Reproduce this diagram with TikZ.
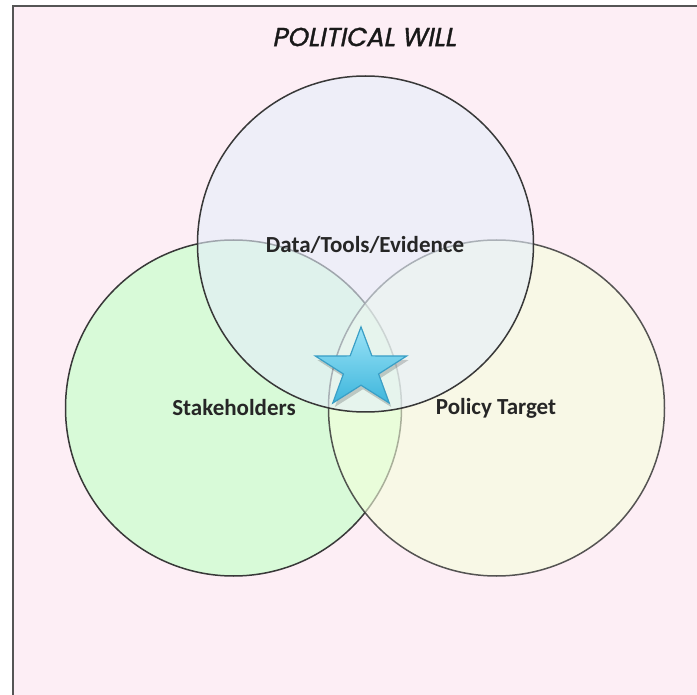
\documentclass[tikz,border=0pt]{standalone}
\usepackage{fontspec}
\setmainfont{Carlito}
\newfontfamily\titlefont[FakeSlant=0.2,FakeBold=1.3]{Poppins}
\definecolor{bgpink}{HTML}{FDEEF5}
\definecolor{framegray}{HTML}{555555}
\definecolor{ringgray}{HTML}{383838}
\definecolor{topfill}{HTML}{E4EEFA}
\definecolor{leftfill}{HTML}{D8FAD8}
\definecolor{rightfill}{HTML}{F5FFDC}
\definecolor{startop}{HTML}{9BE3F7}
\definecolor{starbot}{HTML}{3EB6DC}
\definecolor{starline}{HTML}{3A9FC6}
\tikzset{
  ring/.style={draw=ringgray, line width=1.5pt},
  label/.style={font=\fontsize{23}{27}\selectfont\bfseries, text=black!85, inner sep=0pt},
  titletext/.style={font=\titlefont\fontsize{26}{31}\selectfont, text=black!90, inner sep=0pt},
}
\begin{document}
\begin{tikzpicture}[x=1pt,y=-1pt]
\useasboundingbox (0,0) rectangle (697,695);
\fill[bgpink] (12.5,6.5) rectangle (697,695);
\draw[framegray, line width=2pt] (12.5,695) -- (12.5,6.5) -- (697,6.5);
% circles
\fill[leftfill] (233.5,408) circle (168);
\draw[ring] (233.5,408) circle (168);
\fill[rightfill, fill opacity=0.6] (496.5,408) circle (168);
\draw[ring, draw opacity=0.85] (496.5,408) circle (168);
\fill[topfill, fill opacity=0.6] (365.5,244) circle (168);
\draw[ring] (365.5,244) circle (168);
% labels
\node[titletext] (title) at (364,37) {POLITICAL WILL};
\node[label] (data) at (365,245) {Data/Tools/Evidence};
\node[label] (stake) at (234,408) {Stakeholders};
\node[label] (policy) at (496,408) {Policy Target};
% star
\begin{scope}[shift={(363,373)}, yscale=0.876]
  \fill[black, opacity=0.18] (-90:48) -- (-54:18.5) -- (-18:48) -- (18:18.5) -- (54:48) -- (90:18.5) -- (126:48) -- (162:18.5) -- (198:48) -- (234:18.5) -- cycle;
\end{scope}
\begin{scope}[shift={(361,369)}, yscale=0.876]
  \draw[starline, line width=1.2pt, top color=startop, bottom color=starbot, line join=miter]
    (-90:48) -- (-54:18.5) -- (-18:48) -- (18:18.5) -- (54:48) -- (90:18.5) -- (126:48) -- (162:18.5) -- (198:48) -- (234:18.5) -- cycle;
\end{scope}
\end{tikzpicture}
\end{document}
